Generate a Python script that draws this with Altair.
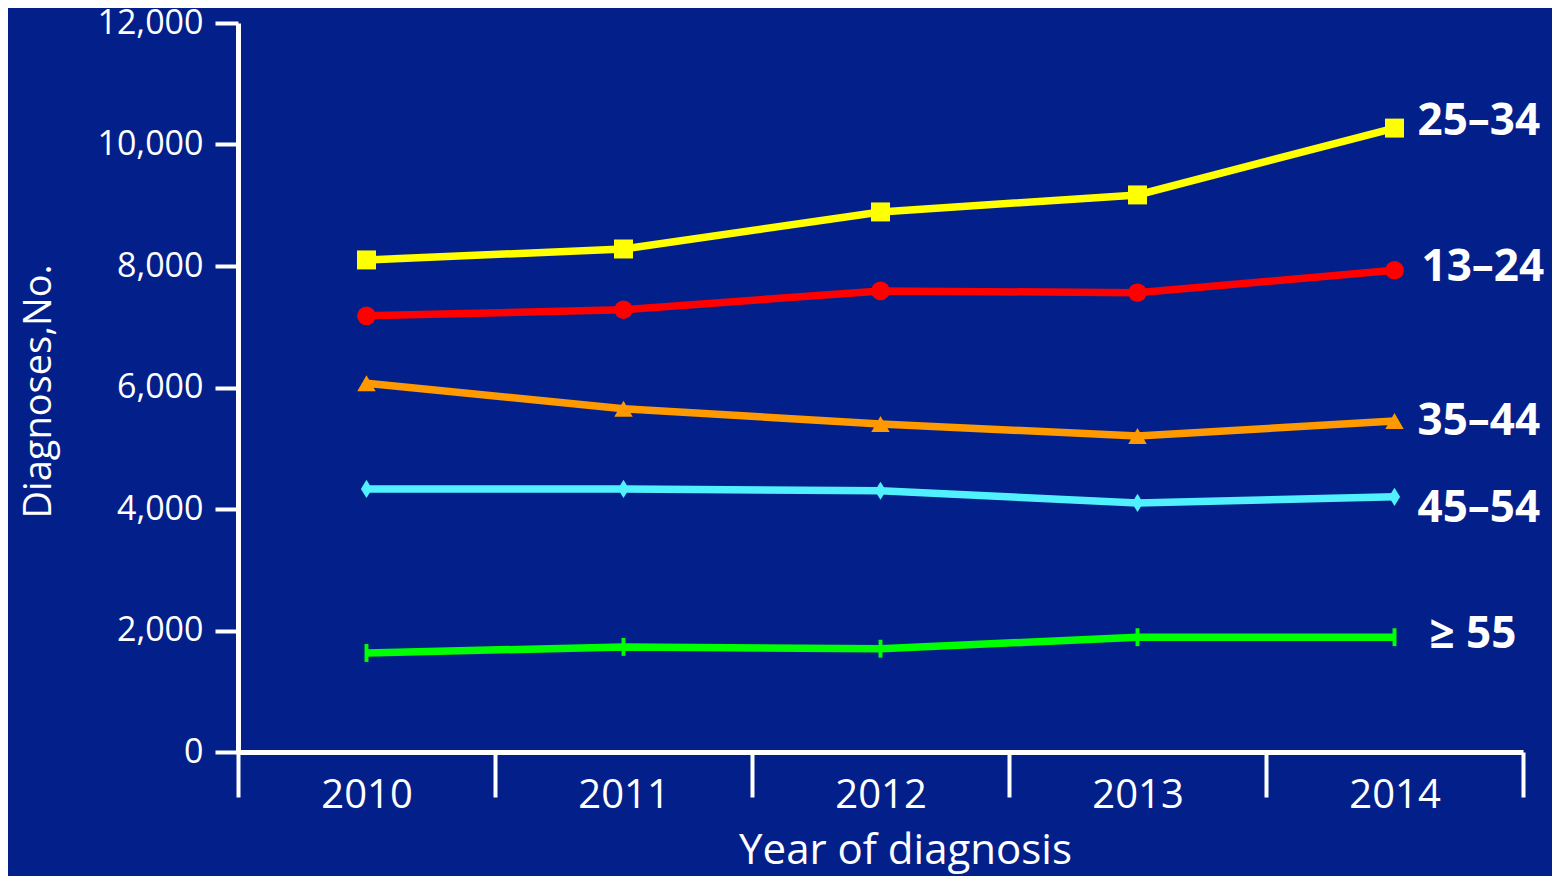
import altair as alt
import pandas as pd

years = ["2010", "2011", "2012", "2013", "2014"]
groups = ["25–34", "13–24", "35–44", "45–54", "≥ 55"]
v_25_34 = [8100, 8280, 8890, 9170, 10270]
v_13_24 = [7180, 7280, 7590, 7560, 7930]
v_35_44 = [6070, 5650, 5400, 5200, 5450]
v_45_54 = [4330, 4330, 4300, 4100, 4200]
v_55 = [1630, 1730, 1700, 1890, 1890]

series = [v_25_34, v_13_24, v_35_44, v_45_54, v_55]
rows = []
for g, vals in zip(groups, series):
    for y, v in zip(years, vals):
        rows.append({"year": y, "group": g, "value": v})
df = pd.DataFrame(rows)

colors = ["#FFFF00", "#FF0000", "#FF9900", "#50F0FF", "#00FF00"]
shapes = [
    "square",
    "circle",
    "triangle-up",
    "M0,-1 L0.62,0 L0,1 L-0.62,0 Z",
    "M-0.22,-1 L0.22,-1 L0.22,1 L-0.22,1 Z",
]
sizes = [360, 320, 360, 440, 320]

x_enc = alt.X(
    "year:O",
    bandPosition=0.5,
    scale=alt.Scale(type="band", paddingInner=0, paddingOuter=0),
    axis=alt.Axis(
        title="Year of diagnosis",
        labelAngle=0,
        tickBand="extent",
        tickSize=45,
        tickWidth=4,
        tickColor="white",
        domainColor="white",
        domainWidth=5,
        labelColor="white",
        labelFont="Open Sans",
        labelFontSize=40,
        labelPadding=-22,
        labelBaseline="top",
        titleColor="white",
        titleFont="Open Sans",
        titleFontSize=42,
        titleFontWeight="normal",
        titleX=667,
        titleY=98,
        titleBaseline="middle",
        titleAlign="center",
        titleAnchor="start",
    ),
)
y_enc = alt.Y(
    "value:Q",
    scale=alt.Scale(domain=[0, 12000], nice=False),
    axis=alt.Axis(
        title="Diagnoses,No.",
        values=[0, 2000, 4000, 6000, 8000, 10000, 12000],
        format=",d",
        grid=False,
        tickSize=23,
        tickWidth=4,
        tickColor="white",
        domainColor="white",
        domainWidth=5,
        labelColor="white",
        labelFont="Open Sans",
        labelFontSize=34,
        labelPadding=12,
        titleColor="white",
        titleFont="Open Sans",
        titleFontSize=38,
        titleFontWeight="normal",
        titleAngle=270,
        titleX=-199,
        titleY=368,
        titleBaseline="middle",
        titleAlign="center",
        titleAnchor="start",
    ),
)

color_enc = alt.Color(
    "group:N", scale=alt.Scale(domain=groups, range=colors), legend=None
)

base = alt.Chart(df)
lines = base.mark_line(strokeWidth=7.5).encode(x=x_enc, y=y_enc, color=color_enc)
points = base.mark_point(filled=True, opacity=1).encode(
    x=x_enc,
    y=y_enc,
    color=color_enc,
    shape=alt.Shape("group:N", scale=alt.Scale(domain=groups, range=shapes), legend=None),
    size=alt.Size("group:N", scale=alt.Scale(domain=groups, range=sizes), legend=None),
)

label_dy = [-6, -2, 1, 12, -2]
label_dx = [23, 27, 23, 23, 35]
label_layers = []
last = df[df["year"] == years[-1]]
for g, dy, dx in zip(groups, label_dy, label_dx):
    label_layers.append(
        alt.Chart(last[last["group"] == g])
        .mark_text(
            align="left",
            baseline="middle",
            dx=dx,
            dy=dy,
            color="white",
            font="Open Sans",
            fontSize=44,
            fontWeight="bold",
        )
        .encode(x=x_enc, y=y_enc, text="group:N")
    )

chart = (
    alt.layer(lines, points, *label_layers)
    .properties(
        width=1285,
        height=729,
        autosize=alt.AutoSizeParams(type="none"),
        padding={"left": 230, "top": 15, "right": 29, "bottom": 124},
        background="#03208a",
    )
    .configure_view(stroke=None)
)

chart.save("out.html", embed_options={"renderer": "svg", "actions": False})
